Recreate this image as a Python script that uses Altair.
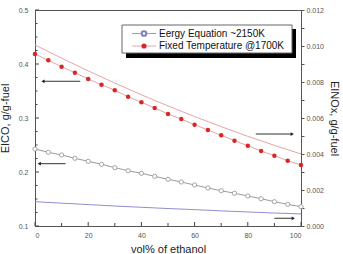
import altair as alt
import pandas as pd

# ethanol content (vol%) for the EICO series
vol_pct = [0, 5, 10, 15, 20, 25, 30, 35, 40, 45, 50, 55, 60, 65, 70, 75, 80, 85, 90, 95, 100]
eico_energy = [0.2426, 0.2365, 0.2315, 0.2254, 0.2198, 0.2143, 0.2080, 0.2024, 0.1976, 0.1920,
               0.1865, 0.1815, 0.1759, 0.1704, 0.1654, 0.1606, 0.1556, 0.1506, 0.1450, 0.1402, 0.1357]
eico_fixed = [0.4185, 0.4068, 0.3950, 0.3839, 0.3722, 0.3617, 0.3513, 0.3394, 0.3291, 0.3185,
              0.3074, 0.2981, 0.2876, 0.2778, 0.2680, 0.2580, 0.2487, 0.2389, 0.2302, 0.2209, 0.2130]

# ethanol content (vol%) for the EINOx curves
vol_nox = [0, 10, 20, 30, 40, 50, 60, 70, 80, 90, 100]
einox_energy = [0.00135, 0.00127, 0.00119, 0.00111, 0.00104, 0.00097, 0.00091, 0.00084, 0.00078, 0.00072, 0.00067]
einox_fixed = [0.01006, 0.00932, 0.00862, 0.00794, 0.00729, 0.00667, 0.00608, 0.00552, 0.00498, 0.00448, 0.00400]

series_names = ["Eergy Equation ~2150K", "Fixed Temperature @1700K"]

# arrows pointing each curve to its axis
arrow_left_y = [0.368, 0.2154]
arrow_left_from = [17.0, 11.5]
arrow_left_to = [3.0, 1.6]
arrow_right_y = [0.00511, 0.00043]
arrow_right_from = [83.0, 90.0]
arrow_right_to = [96.7, 97.1]

# axis tick positions
x_ticks_major = [0, 20, 40, 60, 80, 100]
x_ticks_minor = [10, 30, 50, 70, 90]
left_ticks_major = [0.1, 0.2, 0.3, 0.4, 0.5]
left_ticks_minor = [0.125, 0.15, 0.175, 0.225, 0.25, 0.275, 0.325, 0.35, 0.375, 0.425, 0.45, 0.475]
right_ticks = [0.0, 0.001, 0.002, 0.003, 0.004, 0.005, 0.006, 0.007, 0.008, 0.009, 0.010, 0.011, 0.012]

FONT = "Liberation Sans"
W, H = 266, 216

xs = alt.Scale(domain=[0, 100], nice=False)
ls = alt.Scale(domain=[0.1, 0.5], nice=False)
rs = alt.Scale(domain=[0, 0.012], nice=False)

x_axis = alt.Axis(values=x_ticks_major, format="d", tickSize=0, domain=False,
                  labelPadding=5, titlePadding=5, title="vol% of ethanol")
l_axis = alt.Axis(values=left_ticks_major, format=".1f", tickSize=0, domain=False,
                  labelPadding=7, titlePadding=8, title="EICO, g/g-fuel")
r_axis = alt.Axis(orient="right", values=right_ticks,
                  labelExpr="round(datum.value*1000) % 2 == 0 ? format(datum.value, '.3f') : ''",
                  tickSize=3, domain=False, labelPadding=2, titlePadding=5,
                  title="EINOx, g/g-fuel")

X = lambda f: alt.X(f, type="quantitative", scale=xs, axis=x_axis)
YL = lambda f: alt.Y(f, type="quantitative", scale=ls, axis=l_axis)
YR = lambda f: alt.Y(f, type="quantitative", scale=rs, axis=r_axis)

eico = pd.DataFrame({"vol": vol_pct, "energy": eico_energy, "fixed": eico_fixed})
nox = pd.DataFrame({"vol": vol_nox, "energy": einox_energy, "fixed": einox_fixed})
arr_l = pd.DataFrame({"y": arrow_left_y, "x0": arrow_left_from, "x1": arrow_left_to})
arr_r = pd.DataFrame({"y": arrow_right_y, "x0": arrow_right_from, "x1": arrow_right_to})

# ---- left axis group: EICO
base_l = alt.Chart(eico)
fixed_line = base_l.mark_line(color="#e8a3a3", strokeWidth=1).encode(x=X("vol"), y=YL("fixed"))
fixed_pts = base_l.mark_point(filled=True, color="#d8262a", size=20, opacity=1).encode(
    x=X("vol"), y=YL("fixed"))
energy_line = base_l.mark_line(color="#9a9a9a", strokeWidth=1).encode(x=X("vol"), y=YL("energy"))
energy_pts = base_l.mark_point(filled=True, fill="white", stroke="#9a9a9a", strokeWidth=0.9,
                               size=18, opacity=1).encode(x=X("vol"), y=YL("energy"))

arrow_l_shaft = alt.Chart(arr_l).mark_rule(color="#333", strokeWidth=1).encode(
    x=X("x0"), x2="x1", y=YL("y"))
arrow_l_head = alt.Chart(arr_l).mark_point(shape="triangle-left", filled=True, color="#222",
                                           size=14, opacity=1).encode(x=X("x1"), y=YL("y"))

lt_major = alt.Chart(pd.DataFrame({"v": left_ticks_major})).mark_rule(color="#444").encode(
    y=YL("v"), x=alt.value(0), x2=alt.value(4))
lt_minor = alt.Chart(pd.DataFrame({"v": left_ticks_minor})).mark_rule(color="#444").encode(
    y=YL("v"), x=alt.value(0), x2=alt.value(2.5))
bt_major = alt.Chart(pd.DataFrame({"v": x_ticks_major})).mark_rule(color="#444").encode(
    x=X("v"), y=alt.value(H), y2=alt.value(H - 4))
bt_minor = alt.Chart(pd.DataFrame({"v": x_ticks_minor})).mark_rule(color="#444").encode(
    x=X("v"), y=alt.value(H), y2=alt.value(H - 3))

left = alt.layer(fixed_line, fixed_pts, energy_line, energy_pts, arrow_l_shaft, arrow_l_head,
                 lt_major, lt_minor, bt_major, bt_minor)

# ---- right axis group: EINOx
base_r = alt.Chart(nox)
fixed_nox = base_r.mark_line(color="#e8a3a3", strokeWidth=1).encode(x=X("vol"), y=YR("fixed"))
energy_nox = base_r.mark_line(color="#8f8fd0", strokeWidth=1).encode(x=X("vol"), y=YR("energy"))
arrow_r_shaft = alt.Chart(arr_r).mark_rule(color="#333", strokeWidth=1).encode(
    x=X("x0"), x2="x1", y=YR("y"))
arrow_r_head = alt.Chart(arr_r).mark_point(shape="triangle-right", filled=True, color="#222",
                                           size=14, opacity=1).encode(x=X("x1"), y=YR("y"))

right = alt.layer(fixed_nox, energy_nox, arrow_r_shaft, arrow_r_head)

# ---- legend box with drop shadow
one = alt.Chart(pd.DataFrame({"k": [0]}))
shadow = one.mark_rect(color="black").encode(
    x=alt.value(91), x2=alt.value(261), y=alt.value(19), y2=alt.value(48))
box = one.mark_rect(fill="white", stroke="#666", strokeWidth=1).encode(
    x=alt.value(87), x2=alt.value(257), y=alt.value(15), y2=alt.value(43))
leg_line1 = one.mark_rule(color="#9a9ad0").encode(
    x=alt.value(97), x2=alt.value(121), y=alt.value(23.5))
leg_pt1 = one.mark_point(filled=True, fill="white", stroke="#7f7fc0", size=22, opacity=1).encode(
    x=alt.value(109), y=alt.value(23.5))
leg_txt1 = one.mark_text(text=series_names[0], align="left", baseline="middle",
                         font=FONT, fontSize=10, color="#111").encode(
    x=alt.value(124), y=alt.value(23.5))
leg_line2 = one.mark_rule(color="#e8a3a3").encode(
    x=alt.value(97), x2=alt.value(121), y=alt.value(36))
leg_pt2 = one.mark_point(filled=True, color="#d8262a", size=26, opacity=1).encode(
    x=alt.value(109), y=alt.value(36))
leg_txt2 = one.mark_text(text=series_names[1], align="left", baseline="middle",
                         font=FONT, fontSize=10, color="#111").encode(
    x=alt.value(124), y=alt.value(36))
legend = alt.layer(shadow, box, leg_line1, leg_pt1, leg_txt1, leg_line2, leg_pt2, leg_txt2)

chart = (
    alt.layer(left, right, legend)
    .resolve_scale(y="independent")
    .properties(width=W, height=H, autosize="none",
                padding={"left": 35, "top": 10, "right": 42, "bottom": 28})
    .configure_view(stroke="#555", strokeWidth=1)
    .configure_axis(labelFont=FONT, labelFontSize=7, labelColor="#555",
                    titleFont=FONT, titleFontSize=11, titleFontWeight="normal",
                    titleColor="#222", tickColor="#555", grid=False)
)

chart.save("out.html", embed_options={"renderer": "svg", "actions": False})
